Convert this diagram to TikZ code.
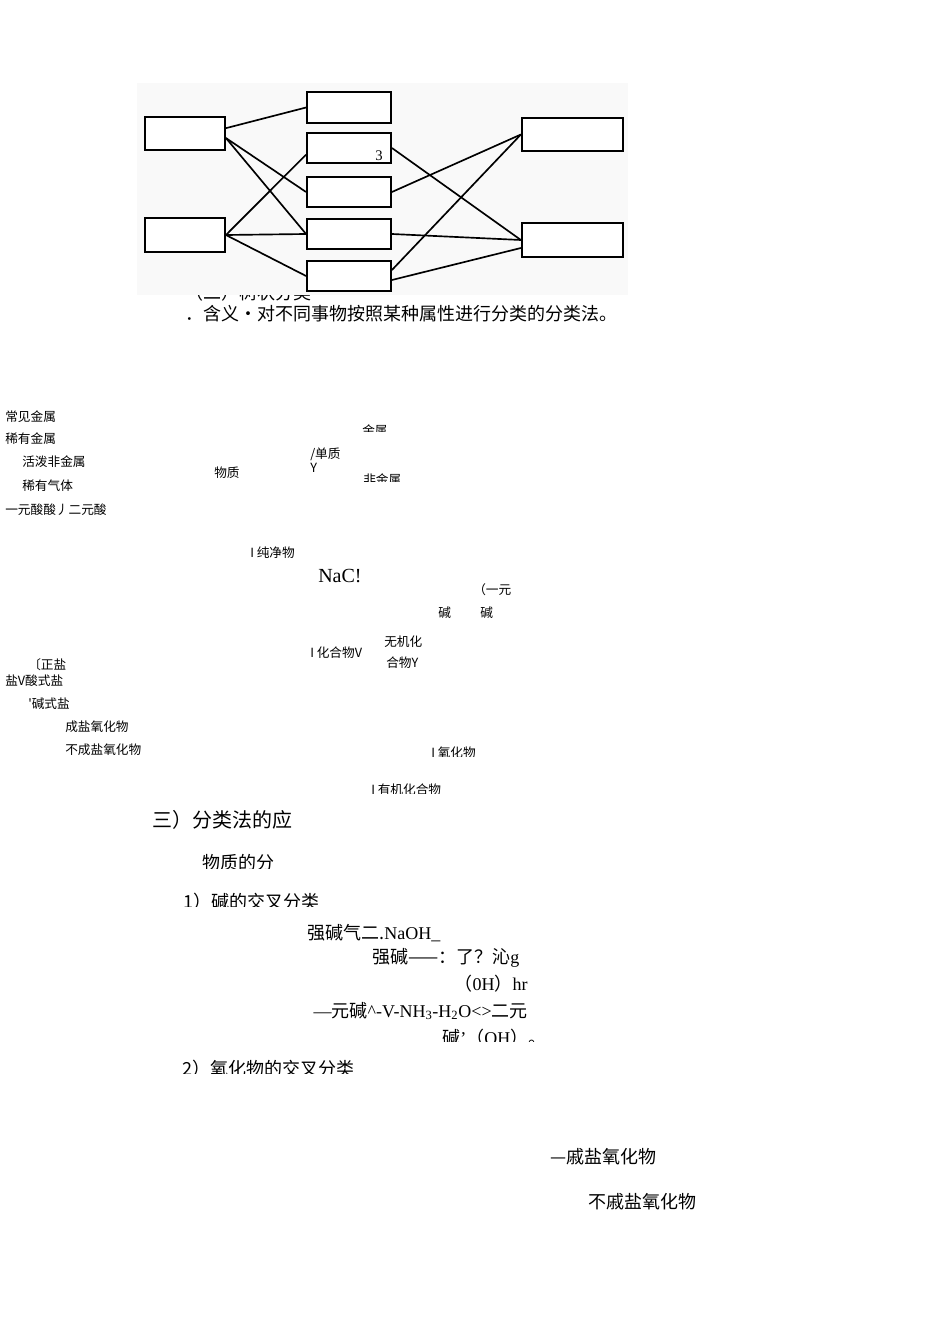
\documentclass[tikz,border=0pt]{standalone}
\usepackage{fontspec}
\setmainfont{Liberation Serif}
\newfontfamily\cjk{Noto Sans CJK SC}
\usetikzlibrary{positioning}
\tikzstyle{leftbox} = [rectangle, draw=black, line width=1.4pt, fill=white, minimum width=60pt, minimum height=25pt]
\tikzstyle{midbox} = [rectangle, draw=black, line width=1.4pt, fill=white, minimum width=63pt, minimum height=23pt]
\tikzstyle{rightbox} = [rectangle, draw=black, line width=1.4pt, fill=white, minimum width=76pt, minimum height=25pt]
\tikzstyle{link} = [line width=1.25pt]
\tikzstyle{smalltxt} = [anchor=west, inner sep=0, font=\cjk\fontsize{9.5pt}{11pt}\selectfont]
\tikzstyle{bigtxt} = [anchor=west, inner sep=0, font=\cjk\fontsize{13.5pt}{15pt}\selectfont]
\tikzstyle{serifbig} = [anchor=west, inner sep=0, font=\fontsize{13.5pt}{15pt}\selectfont]
% text whose lower (or upper) part is cut away
\newcommand{\cuttxt}[6]{\begin{scope}\clip (#1-10,#3) rectangle (#1+500,#4);\node[#5] at (#1,#2) {#6};\end{scope}}

\begin{document}
\begin{tikzpicture}[x=0.75pt,y=-0.75pt]
    \useasboundingbox (0,0) rectangle (950,1344);

    % Heading under the picture
    \cuttxt{185}{293}{280}{303}{bigtxt}{（二）树状分类}
    \cuttxt{185}{314}{304}{321}{bigtxt}{．含义·对不同事物按照某种属性进行分类的分类法。}

    % Picture
    \fill[gray!5] (137,83) rectangle (628,295);
    \node (l1) [leftbox] at (185,133.5) {};
    \node (l2) [leftbox] at (185,235) {};
    \node (m1) [midbox] at (349,107.5) {};
    \node (m2) [midbox] at (349,148) {};
    \node (m3) [midbox] at (349,192) {};
    \node (m4) [midbox] at (349,234) {};
    \node (m5) [midbox] at (349,276) {};
    \node (r1) [rightbox] at (572.5,134.5) {};
    \node (r2) [rightbox] at (572.5,240) {};
    \node (three) [serifbig, font=\fontsize{11pt}{12pt}\selectfont] at (375,156) {3};

    % Lines left
    \draw [link] ([yshift=4pt]l1.east) -- (m1.west);
    \draw [link] ([yshift=-3.4pt]l1.east) -- (m3.west);
    \draw [link] ([yshift=-3.4pt]l1.east) -- (m4.west);
    \draw [link] (l2.east) -- ([yshift=-5pt]m2.west);
    \draw [link] (l2.east) -- (m4.west);
    \draw [link] (l2.east) -- (m5.west);

    % Lines right
    \draw [link] (m2.east) -- (r2.west);
    \draw [link] (m3.east) -- (r1.west);
    \draw [link] (m4.east) -- (r2.west);
    \draw [link] ([yshift=4.5pt]m5.east) -- (r1.west);
    \draw [link] ([yshift=-3pt]m5.east) -- ([yshift=-6pt]r2.west);

    % Tree classification
    \node (cjjs) [smalltxt] at (5,417) {常见金属};
    \node (xyjs) [smalltxt] at (5,439) {稀有金属};
    \node (hpfjs) [smalltxt] at (22,462) {活泼非金属};
    \node (xyqt) [smalltxt] at (22,486) {稀有气体};
    \node (acid) [smalltxt] at (5,510) {一元酸酸丿二元酸};
    \cuttxt{214}{473}{460}{477}{smalltxt}{物质}
    \node (dz) [smalltxt] at (310,454) {/单质};
    \node (dzy) [smalltxt] at (310,468) {Y};
    \cuttxt{362}{431}{420}{431}{smalltxt}{金属}
    \cuttxt{363}{480}{470}{481}{smalltxt}{非金属}
    \node (cjw) [smalltxt] at (250,553) {I 纯净物};
    \node (nacl) [serifbig, font=\fontsize{15pt}{17pt}\selectfont] at (318,576) {NaC!};
    \node (yiyuan) [smalltxt] at (473,590) {（一元};
    \cuttxt{438}{613}{600}{617}{smalltxt}{碱}
    \cuttxt{480}{613}{600}{617}{smalltxt}{碱}
    \node (wjh) [smalltxt] at (384,642) {无机化};
    \node (hwy) [smalltxt] at (386,663) {合物Y};
    \cuttxt{310}{653}{640}{657}{smalltxt}{I 化合物V}
    \node (zy) [smalltxt] at (28,665) {〔正盐};
    \node (ysy) [smalltxt] at (5,681) {盐V酸式盐};
    \node (jsy) [smalltxt] at (28,704) {'碱式盐};
    \node (cyyh) [smalltxt] at (65,727) {成盐氧化物};
    \node (bcyyh) [smalltxt] at (65,750) {不成盐氧化物};
    \cuttxt{431}{753}{740}{756}{smalltxt}{I 氧化物}
    \cuttxt{371}{790}{776}{793}{smalltxt}{I 有机化合物}

    % Application
    \node (sanhead) [bigtxt, font=\cjk\fontsize{15pt}{17pt}\selectfont] at (152,820) {三）分类法的应};
    \cuttxt{202}{863}{850}{868}{bigtxt}{物质的分};
    \cuttxt{183}{902}{890}{906}{bigtxt}{1）碱的交叉分类}
    \node (qj1) [bigtxt] at (307,933) {强碱气二.{\rmfamily NaOH\_}};
    \node (qj2) [bigtxt] at (372,958) {强碱——：了？沁{\rmfamily g}};
    \node (oh1) [serifbig, anchor=east] at (528,984) {\cjk（\rmfamily 0H\cjk）\rmfamily hr};
    \node (yyj) [serifbig, anchor=east] at (528,1011) {—{\cjk\itshape 元碱}\textasciicircum-V-NH\textsubscript{3}-H\textsubscript{2}O<>{\cjk 二元}};
    \cuttxt{442}{1038}{1025}{1041}{serifbig}{{\cjk 碱}'{\cjk（}OH{\cjk）。}}
    \cuttxt{182}{1069}{1055}{1073}{bigtxt}{2）氧化物的交叉分类}
    \node (cyy) [bigtxt] at (550,1157) {—戚盐氧化物};
    \node (bcyy) [bigtxt] at (588,1202) {不戚盐氧化物};

\end{tikzpicture}
\end{document}
